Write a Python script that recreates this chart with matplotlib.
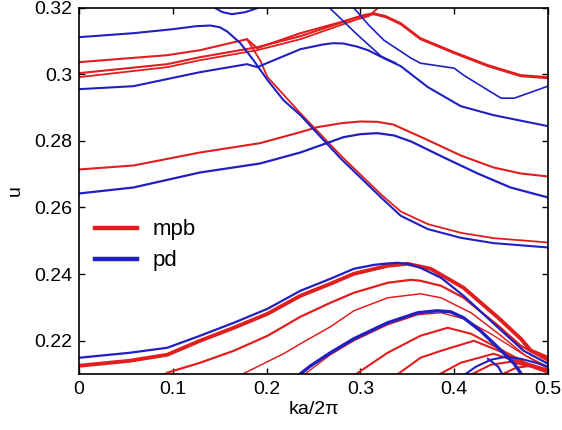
import matplotlib
matplotlib.use("Agg")
import matplotlib.pyplot as plt
from matplotlib.lines import Line2D

plt.rcParams['font.family'] = ['Liberation Sans', 'DejaVu Sans']

RED = '#e01e1e'
BLUE = '#2020c0'

# ---- upper bands (mpb = red, pd = blue) ----
k_b1 = [0, 0.058, 0.100, 0.125, 0.140, 0.150, 0.158, 0.172, 0.186, 0.201, 0.218, 0.236, 0.279, 0.322, 0.343, 0.372, 0.407, 0.442, 0.5]
u_b1 = [0.3111, 0.3123, 0.3135, 0.3144, 0.3146, 0.3141, 0.3128, 0.3093, 0.3042, 0.2982, 0.2922, 0.2877, 0.2747, 0.2630, 0.2575, 0.2535, 0.2509, 0.2493, 0.2480]

k_b2 = [0, 0.058, 0.129, 0.179, 0.190, 0.236, 0.260, 0.271, 0.282, 0.296, 0.308, 0.325, 0.343, 0.372, 0.407, 0.442, 0.5]
u_b2 = [0.2955, 0.2964, 0.3006, 0.3030, 0.3021, 0.3075, 0.3089, 0.3093, 0.3092, 0.3083, 0.3072, 0.3048, 0.3024, 0.2961, 0.2904, 0.2877, 0.2844]

k_b3 = [0.266, 0.295, 0.322, 0.338]
u_b3 = [0.3202, 0.3123, 0.3054, 0.3033]

k_b4 = [0.292, 0.309, 0.325, 0.354, 0.364, 0.400, 0.410, 0.436, 0.450, 0.464, 0.482, 0.5]
u_b4 = [0.3202, 0.3147, 0.3102, 0.3048, 0.3033, 0.3018, 0.2997, 0.2952, 0.2928, 0.2928, 0.2946, 0.2964]

k_b5 = [0.143, 0.153, 0.163, 0.177, 0.190]
u_b5 = [0.3202, 0.3186, 0.3180, 0.3186, 0.3198]

k_r1 = [0, 0.094, 0.129, 0.179, 0.190, 0.236, 0.279, 0.303, 0.314, 0.327, 0.343, 0.364, 0.400, 0.436, 0.471, 0.5]
u_r1 = [0.3036, 0.3057, 0.3072, 0.3105, 0.3078, 0.3123, 0.3156, 0.3177, 0.3183, 0.3174, 0.3153, 0.3108, 0.3066, 0.3027, 0.2997, 0.2991]

k_r2 = [0, 0.094, 0.129, 0.190, 0.236, 0.297, 0.314, 0.327, 0.343, 0.364, 0.400, 0.436, 0.471, 0.5]
u_r2 = [0.3003, 0.3030, 0.3051, 0.3081, 0.3114, 0.3171, 0.3180, 0.3171, 0.3150, 0.3105, 0.3063, 0.3024, 0.2994, 0.2988]

k_r3 = [0, 0.094, 0.129, 0.190, 0.236, 0.297, 0.309, 0.322]
u_r3 = [0.2991, 0.3021, 0.3042, 0.3072, 0.3105, 0.3165, 0.3174, 0.3207]

k_rd = [0.179, 0.193, 0.201, 0.236, 0.279, 0.322, 0.343, 0.372, 0.407, 0.442, 0.5]
u_rd = [0.3105, 0.3042, 0.2991, 0.2883, 0.2756, 0.2639, 0.2588, 0.2550, 0.2524, 0.2508, 0.2495]

# ---- middle bands ----
k_r4 = [0, 0.058, 0.129, 0.193, 0.236, 0.254, 0.280, 0.300, 0.318, 0.335, 0.372, 0.407, 0.442, 0.471, 0.5]
u_r4 = [0.2714, 0.2726, 0.2765, 0.2793, 0.2826, 0.2841, 0.2853, 0.2858, 0.2857, 0.2849, 0.2802, 0.2756, 0.2720, 0.2702, 0.2693]

k_bm = [0, 0.058, 0.129, 0.193, 0.236, 0.261, 0.282, 0.300, 0.318, 0.336, 0.354, 0.389, 0.425, 0.460, 0.5]
u_bm = [0.2642, 0.2660, 0.2705, 0.2732, 0.2765, 0.2790, 0.2811, 0.2820, 0.2823, 0.2816, 0.2798, 0.2750, 0.2702, 0.2660, 0.2630]

# ---- lower fan ----
k_lb1 = [0, 0.054, 0.094, 0.129, 0.165, 0.201, 0.236, 0.268, 0.293, 0.315, 0.329, 0.340, 0.352, 0.364, 0.386, 0.410, 0.447, 0.474, 0.5]
u_lb1 = [0.2149, 0.2164, 0.2179, 0.2215, 0.2254, 0.2296, 0.2350, 0.2386, 0.2416, 0.2428, 0.2432, 0.2434, 0.2430, 0.2419, 0.2389, 0.2335, 0.2239, 0.2170, 0.2131]

k_lr1 = [0, 0.054, 0.094, 0.129, 0.165, 0.201, 0.236, 0.268, 0.293, 0.329, 0.350, 0.375, 0.410, 0.447, 0.471, 0.482, 0.5]
u_lr1 = [0.2125, 0.2140, 0.2158, 0.2200, 0.2239, 0.2281, 0.2335, 0.2371, 0.2401, 0.2425, 0.2431, 0.2416, 0.2359, 0.2269, 0.2206, 0.2170, 0.2149]

k_lr2 = [0.087, 0.094, 0.129, 0.165, 0.201, 0.236, 0.268, 0.293, 0.329, 0.354, 0.364, 0.386, 0.410, 0.447, 0.471, 0.5]
u_lr2 = [0.2090, 0.2104, 0.2134, 0.2170, 0.2215, 0.2272, 0.2314, 0.2344, 0.2374, 0.2383, 0.2380, 0.2365, 0.2329, 0.2245, 0.2185, 0.2140]

k_lr3 = [0.172, 0.175, 0.218, 0.236, 0.268, 0.293, 0.329, 0.364, 0.386, 0.418, 0.450, 0.476, 0.5]
u_lr3 = [0.2090, 0.2101, 0.2161, 0.2191, 0.2242, 0.2290, 0.2329, 0.2341, 0.2329, 0.2284, 0.2215, 0.2155, 0.2122]

k_lb2 = [0.231, 0.247, 0.268, 0.293, 0.329, 0.361, 0.382, 0.396, 0.410, 0.428, 0.447, 0.464, 0.474]
u_lb2 = [0.2090, 0.2125, 0.2164, 0.2206, 0.2254, 0.2284, 0.2290, 0.2287, 0.2269, 0.2230, 0.2179, 0.2131, 0.2090]

k_lr2b = [0.236, 0.268, 0.293, 0.329, 0.361, 0.386, 0.410, 0.439, 0.471, 0.5]
u_lr2b = [0.2090, 0.2158, 0.2200, 0.2248, 0.2278, 0.2284, 0.2266, 0.2221, 0.2164, 0.2116]

k_lr4 = [0.290, 0.329, 0.364, 0.393, 0.418, 0.450, 0.476, 0.5]
u_lr4 = [0.2090, 0.2164, 0.2215, 0.2239, 0.2221, 0.2173, 0.2134, 0.2113]

k_lr5 = [0.335, 0.364, 0.386, 0.421, 0.450, 0.476, 0.5]
u_lr5 = [0.2090, 0.2149, 0.2170, 0.2200, 0.2167, 0.2128, 0.2110]

k_lr6 = [0.378, 0.407, 0.442, 0.471, 0.5]
u_lr6 = [0.2090, 0.2134, 0.2161, 0.2134, 0.2107]

k_lr7 = [0.412, 0.439, 0.460, 0.482, 0.5]
u_lr7 = [0.2090, 0.2128, 0.2137, 0.2122, 0.2104]

k_lr8 = [0.444, 0.466, 0.482, 0.5]
u_lr8 = [0.2090, 0.2119, 0.2125, 0.2107]

k_lb3 = [0.407, 0.423, 0.439, 0.455, 0.471, 0.487, 0.5]
u_lb3 = [0.2090, 0.2122, 0.2143, 0.2152, 0.2146, 0.2134, 0.2122]

k_lb4 = [0.436, 0.447, 0.453]
u_lb4 = [0.2146, 0.2122, 0.2090]

xticks = [0, 0.1, 0.2, 0.3, 0.4, 0.5]
xtick_labels = ['0', '0.1', '0.2', '0.3', '0.4', '0.5']
yticks = [0.22, 0.24, 0.26, 0.28, 0.30, 0.32]
ytick_labels = ['0.22', '0.24', '0.26', '0.28', '0.3', '0.32']

red_curves = [
    (k_r1, u_r1, 1.5), (k_r2, u_r2, 1.5), (k_r3, u_r3, 1.3), (k_rd, u_rd, 1.3),
    (k_r4, u_r4, 1.5),
    (k_lr1, u_lr1, 2.8), (k_lr2, u_lr2, 1.6), (k_lr3, u_lr3, 1.1), (k_lr2b, u_lr2b, 1.0),
    (k_lr4, u_lr4, 1.5), (k_lr5, u_lr5, 1.5), (k_lr6, u_lr6, 1.5), (k_lr7, u_lr7, 1.5),
    (k_lr8, u_lr8, 1.5),
]
blue_curves = [
    (k_b1, u_b1, 1.5), (k_b2, u_b2, 1.5), (k_b3, u_b3, 1.2), (k_b4, u_b4, 1.2),
    (k_b5, u_b5, 1.5), (k_bm, u_bm, 1.6),
    (k_lb1, u_lb1, 1.6), (k_lb2, u_lb2, 2.4), (k_lb3, u_lb3, 1.5), (k_lb4, u_lb4, 1.5),
]

fig = plt.figure(figsize=(5.62, 4.30), dpi=100)
ax = fig.add_axes([0.1406, 0.130, 0.8345, 0.8525])

for k, u, lw in red_curves:
    ax.plot(k, u, color=RED, lw=lw, solid_joinstyle='round')
for k, u, lw in blue_curves:
    ax.plot(k, u, color=BLUE, lw=lw, solid_joinstyle='round')

ax.set_xlim(0, 0.5)
ax.set_ylim(0.21, 0.32)
ax.set_xticks(xticks)
ax.set_xticklabels(xtick_labels)
ax.set_yticks(yticks)
ax.set_yticklabels(ytick_labels)
ax.tick_params(direction='in', top=True, right=True, length=4, width=1,
               labelsize=14, pad=5)
for s in ax.spines.values():
    s.set_linewidth(1.2)

ax.set_xlabel('ka/2π', fontsize=14, labelpad=2)
ax.set_ylabel('u', fontsize=14, labelpad=7)

handles = [Line2D([], [], color=RED, lw=3.2), Line2D([], [], color=BLUE, lw=3.2)]
ax.legend(handles, ['mpb', 'pd'], loc='upper left', bbox_to_anchor=(0.034, 0.422),
          frameon=False, fontsize=16, borderpad=0, borderaxespad=0,
          handlelength=1.9, handletextpad=0.7, labelspacing=0.45)

fig.savefig('out.png', dpi=100)
